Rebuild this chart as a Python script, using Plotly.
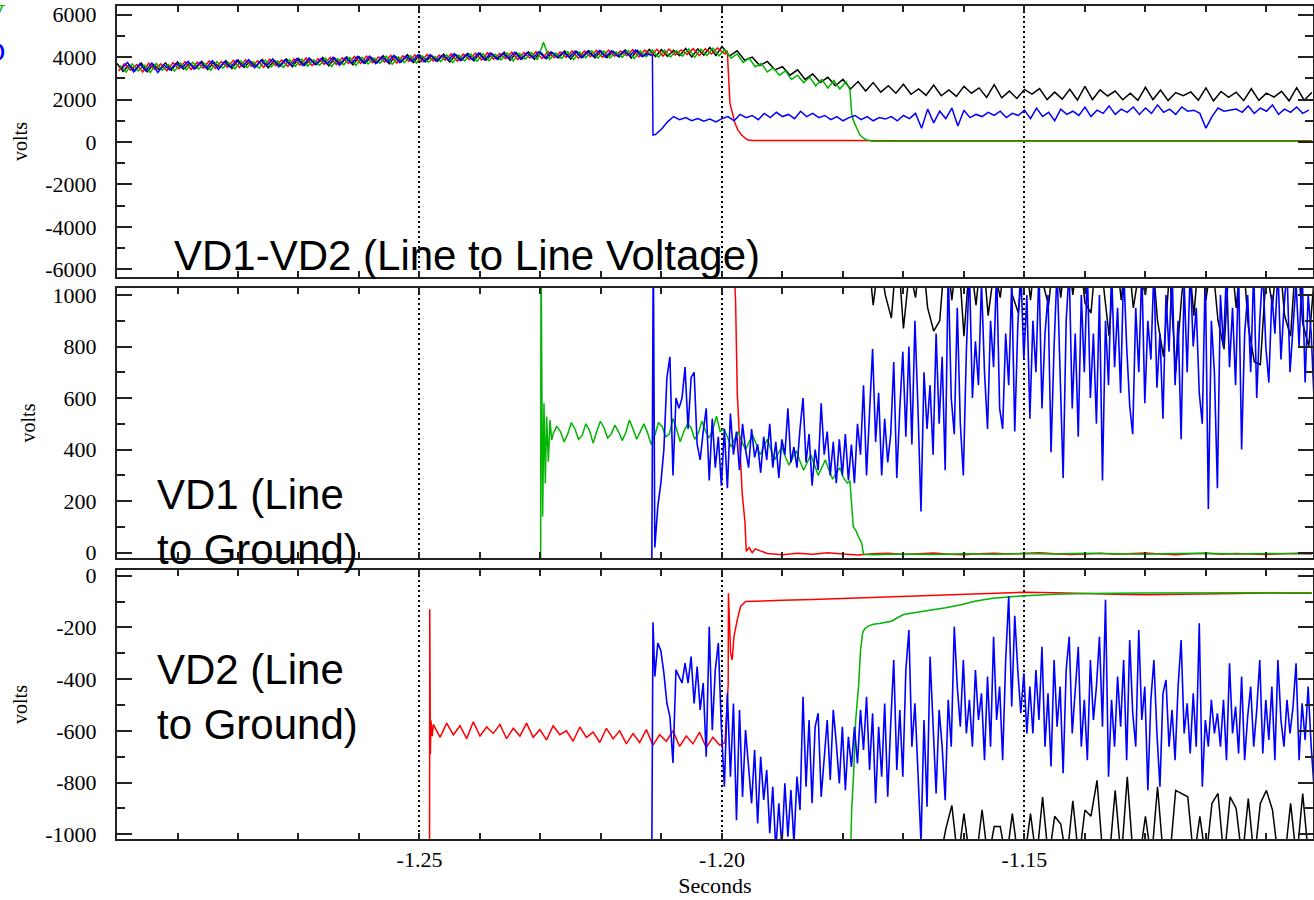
import numpy as np
import plotly.graph_objects as go

# ---------------- Panel 1 : VD1-VD2 (line to line) ----------------
P1_BLACK_T0, P1_DT = -1.300, 0.001
p1_black_early = [3700, 3330, 3640, 3360, 3720, 3310, 3660, 3400, 3730, 3380,
                  3770, 3430, 3710, 3470, 3800, 3420, 3760, 3510, 3830, 3460,
                  3860, 3520, 3810, 3560, 3890, 3500, 3840, 3590, 3910, 3550,
                  3940, 3610, 3900, 3650, 3980, 3590, 3950, 3670, 4010, 3640,
                  4020, 3700, 3990, 3730, 4070, 3690, 4040, 3770, 4110, 3750,
                  4100, 3790, 4070, 3810, 4140, 3770, 4120, 3860, 4180, 3830,
                  4190, 3860, 4160, 3890, 4230, 3850, 4200, 3920, 4250, 3900,
                  4240, 3930, 4210, 3960, 4290, 3910, 4270, 3990, 4310, 3970,
                  4300, 3980, 4270, 4010, 4340, 3960, 4320, 4040, 4360, 4020,
                  4350, 4030, 4320, 4070, 4410, 4010, 4390, 4090, 4450, 4080]
P1_BLACK_TAIL_T0, P1_BLACK_TAIL_DT = -1.200, 0.00125
p1_black_tail = [4500, 4050, 4300, 3850, 4000, 3600, 3800, 3400, 3550, 3150,
                 3400, 2950, 3200, 2800, 3050, 2650, 2950, 2500, 2850, 2400,
                 2800, 2350, 2650, 2300, 2720, 2250, 2500, 2200, 2680, 2180,
                 2450, 2150, 2620, 2300, 2550, 2100, 2700, 2080, 2400, 2050,
                 2480, 2260, 2520, 2000, 2350, 2020, 2480, 1980, 2620, 2000,
                 2460, 2170, 2400, 1990, 2300, 1960, 2580, 2000, 2450, 1950,
                 2330, 2180, 2360, 1970, 2550, 1940, 2380, 2100, 2350, 1950,
                 2510, 1960, 2300, 2120, 2390, 1940, 2560, 1970, 2330]

P1_RED_T0 = -1.29975
p1_red_early = [3350, 3690, 3380, 3650, 3300, 3710, 3420, 3680, 3360, 3740,
                3450, 3790, 3420, 3760, 3480, 3820, 3470, 3790, 3530, 3850,
                3510, 3870, 3560, 3830, 3520, 3900, 3600, 3860, 3570, 3920,
                3620, 3960, 3600, 3930, 3660, 3990, 3650, 3970, 3700, 4030,
                3710, 4050, 3740, 4010, 3760, 4080, 3720, 4060, 3800, 4110,
                3780, 4130, 3820, 4090, 3850, 4150, 3810, 4140, 3880, 4190,
                3860, 4210, 3900, 4170, 3930, 4230, 3890, 4220, 3960, 4260,
                3930, 4270, 3970, 4240, 3990, 4300, 3950, 4280, 4020, 4320,
                3990, 4330, 4040, 4290, 4060, 4350, 4010, 4330, 4080, 4370,
                4050, 4380, 4100, 4340, 4120, 4400, 4070, 4390, 4150, 4430]
p1_red_tail_t = [-1.1995, -1.19912, -1.19868, -1.19818, -1.19785, -1.19736, -1.19674,
                 -1.1962, -1.1957, -1.195, -1.19, -1.18, -1.17, -1.16, -1.15, -1.14,
                 -1.13, -1.12, -1.11, -1.1025]
p1_red_tail = [4150, 4300, 1830, 1170, 890, 560, 330, 190, 94, 70, 60, 65, 55, 60,
               60, 55, 60, 60, 55, 60]

P1_GREEN_T0 = -1.2995
p1_green_main = [3600, 3300, 3680, 3350, 3620, 3280, 3700, 3390, 3650, 3340,
                 3720, 3400, 3760, 3440, 3700, 3380, 3790, 3480, 3750, 3450,
                 3820, 3500, 3790, 3470, 3860, 3540, 3830, 3510, 3880, 3570,
                 3910, 3580, 3870, 3620, 3950, 3560, 3930, 3640, 3980, 3610,
                 3990, 3680, 3960, 3710, 4040, 3660, 4010, 3740, 4070, 3720,
                 4060, 3760, 4030, 3790, 4110, 3740, 4090, 3820, 4150, 3800,
                 4160, 3830, 4130, 3870, 4200, 3820, 4180, 3900, 4220, 3880,
                 4700, 3900, 4190, 3940, 4260, 3890, 4240, 3970, 4290, 3950,
                 4280, 3960, 4250, 3990, 4320, 3940, 4300, 4020, 4340, 4000,
                 4330, 4010, 4300, 4050, 4390, 3990, 4370, 4070, 4420, 4060,
                 4350, 3950, 4150, 3750, 3950, 3550, 3700, 3300, 3500, 3150,
                 3350, 2950, 3150, 2800, 3050, 2650, 2950, 2550, 2900, 2500,
                 2850]
p1_green_tail_t = [-1.17884, -1.17856, -1.1783, -1.17773, -1.17719, -1.17664, -1.17608,
                   -1.175, -1.17, -1.16, -1.15, -1.14, -1.13, -1.12, -1.11, -1.1025]
p1_green_tail = [2450, 1360, 1030, 660, 330, 190, 94, 40, 35, 30, 35, 30, 30, 35, 30, 30]

P1_BLUE_T0 = -1.29925
p1_blue_early = [3450, 3750, 3300, 3680, 3350, 3720, 3280, 3640, 3400, 3700,
                 3500, 3800, 3440, 3760, 3480, 3830, 3420, 3780, 3520, 3850,
                 3560, 3880, 3500, 3840, 3590, 3910, 3540, 3870, 3620, 3940,
                 3600, 3960, 3640, 3920, 3680, 4000, 3620, 3980, 3700, 4030,
                 3720, 4040, 3690, 4010, 3760, 4080, 3740, 4050, 3800, 4110,
                 3780, 4120, 3810, 4090, 3860, 4160, 3830, 4130, 3880, 4190,
                 3870, 4200, 3910, 4170, 3940, 4240, 3900, 4210, 3960, 4260,
                 3950, 4250, 3980, 4230, 4000, 4290, 3970, 4270, 4030, 4310,
                 4000, 4300, 4040, 4280, 4070, 4330, 4030, 4150]
p1_blue_drop_t = [-1.2115, -1.2114]
p1_blue_drop = [4100, 330]
P1_BLUE_TAIL_T0 = -1.2110
p1_blue_tail = [350, 600, 950, 1200, 1050, 1150, 1000, 1100, 980, 1080,
                950, 1100, 1200, 1000, 1300, 1150, 1250, 1050, 1350, 1150,
                1400, 1200, 1300, 1100, 1450, 1200, 1350, 1150, 1250, 1050,
                1200, 1000, 1150, 1250, 1050, 1200, 1000, 1150, 1080, 1200,
                1000, 1250, 1100, 1350, 650, 1550, 900, 1450, 1100, 1600,
                750, 1500, 1150, 1300, 1200, 1400, 1250, 1450, 1150, 1350,
                1250, 1500, 1100, 1600, 1200, 1400, 1000, 1550, 1300, 1450,
                1250, 1650, 1200, 1500, 1350, 1700, 1300, 1550, 1400, 1650,
                1300, 1600, 1350, 1750, 1400, 1550, 1300, 1650, 1450, 1500,
                1350, 650, 1200, 1600, 1450, 1500, 1550, 1400, 1700, 1350,
                1600, 1450, 1750, 1300, 1550, 1400, 1650, 1350, 1500]

# ---------------- Panel 2 : VD1 (line to ground) ----------------
P2_BLACK_T0 = -1.178
p2_black = [1200, 1100, 1200, 960, 1150, 1000, 910, 1200, 870, 1100,
            990, 1200, 950, 860, 900, 1200, 980, 1200, 840, 1150,
            960, 1200, 920, 1100, 990, 1200, 1000, 930, 1200, 980,
            1200, 1050, 960, 1200, 990, 1200, 1000, 1200, 970, 930,
            1200, 1050, 840, 1200, 980, 1200, 950, 1100, 1000, 1200,
            900, 760, 1100, 700, 1000, 1200, 920, 1200, 980, 1150,
            900, 790, 1200, 950, 1200, 880, 740, 730, 1100, 960,
            1200, 920, 840, 1200, 890, 800, 1100]

p2_red_head_t = [-1.2000, -1.1980, -1.19775, -1.1976, -1.19747, -1.1972, -1.19692,
                 -1.19664, -1.1962, -1.19598, -1.1955, -1.1950, -1.1945]
p2_red_head = [1300, 1100, 980, 800, 620, 490, 360, 225, 120, 5, 20, 0, 15]
P2_RED_FLAT_T0, P2_FLAT_DT = -1.1925, 0.0025
p2_red_flat = [-3, -8, -2, -6, 0, -5, -9, -4, -2, -7, -3, -1, -6, -8, -4, -2, -5, -3,
               0, -4, -7, -5, -2, -6, -3, -1, -5, -8, -4, -2, -6, -3, -5, -7, -4, -2, -5]

p2_green_head_t = [-1.2301, -1.22997, -1.22991, -1.2298, -1.22964, -1.22942, -1.2292,
                   -1.22898, -1.2287, -1.22843, -1.22815, -1.22788]
p2_green_head = [-60, -60, 1200, 670, 140, 580, 269, 528, 353, 515, 437, 463]
P2_GREEN_MID_T0, P2_GREEN_DT = -1.2273, 0.0006
p2_green_mid = [490, 470, 430, 460, 505, 480, 440, 455, 500, 475, 425, 470, 510, 485,
                445, 460, 495, 470, 435, 465, 515, 480, 440, 470, 500, 465, 420, 455,
                505, 490, 450, 460, 520, 480, 430, 470, 500, 485, 440, 465, 510, 470,
                445, 480, 530, 470,
                480, 450, 410, 440, 470, 430, 400, 430, 455, 420, 380, 410, 440, 400,
                360, 385, 410, 370, 340, 370, 395, 355, 320, 350, 380, 340, 300, 330,
                360, 320, 285, 310, 330, 290, 270]
p2_green_tail_t = [-1.17884, -1.1783, -1.1778, -1.1775, -1.1769, -1.1766, -1.175, -1.170,
                   -1.165, -1.160, -1.155, -1.150, -1.145, -1.140, -1.135, -1.130, -1.125,
                   -1.120, -1.115, -1.110, -1.105, -1.1025]
p2_green_tail = [277, 102, 83, 65, 38, -6, -8, -5, -7, -4, -6, -3, -5, -2, -4, -6, -3, -2,
                 -5, -3, -4, -3]

p2_blue_head_t = [-1.2116, -1.21135]
p2_blue_head = [-60, 1200]
P2_BLUE_T0, NOISE_DT = -1.2111, 0.0005
p2_blue = [20, 180, 270, 400, 680, 760, 300, 600, 560, 600,
           720, 480, 680, 700, 420, 360, 470, 560, 280, 520,
           330, 450, 260, 480, 250, 540, 380, 470, 320, 500,
           400, 330, 480, 370, 420, 310, 450, 360, 500, 330,
           430, 290, 440, 380, 560, 350, 410, 330, 480, 600,
           350, 460, 260, 400, 320, 580, 380, 470, 300, 430,
           270, 440, 300, 460, 280, 420, 270, 500, 380, 650,
           300, 560, 790, 430, 620, 300, 520, 350, 460, 740,
           290, 560, 780, 450, 800, 420, 900, 560, 160, 700,
           480, 650, 380, 850, 500, 760, 320, 1100, 600, 460,
           950, 500, 300, 780, 1100, 600, 820, 650, 1050, 700,
           480, 900, 720, 1100, 560, 480, 850, 650, 1050, 470,
           880, 1100, 750, 1000, 520, 900, 700, 1100, 560, 850,
           1000, 390, 800, 1100, 650, 290, 900, 1100, 560, 850,
           450, 1000, 700, 1100, 600, 850, 500, 1000, 280, 900,
           650, 1100, 720, 950, 620, 1100, 800, 570, 460, 950,
           700, 1100, 580, 900, 750, 1100, 640, 850, 520, 1000,
           780, 1100, 650, 900, 440, 1050, 700, 1100, 800, 950,
           620, 500, 1100, 170, 900, 700, 250, 1000, 800, 1100,
           720, 950, 650, 1100, 400, 850, 1000, 700, 1100, 600,
           900, 1100, 800, 660, 1000, 850, 1100, 750, 950, 1100,
           700, 900, 1050, 800, 1100, 660, 1000, 850, 580]

# ---------------- Panel 3 : VD2 (line to ground) ----------------
p3_red_head_t = [-1.24835, -1.2483, -1.2482, -1.2481, -1.2479]
p3_red_head = [-1500, -130, -690, -560, -620]
P3_RED_MID_T0, P3_RED_DT = -1.2477, 0.0011
p3_red_mid = [-575, -625, -570, -615, -580, -630, -565, -620, -585, -610,
              -575, -630, -590, -620, -570, -625, -595, -635, -580, -615,
              -600, -640, -585, -625, -605, -645, -590, -630, -600, -650,
              -610, -645, -595, -655, -615, -640, -600, -660, -620, -650,
              -605, -665, -625, -655]
p3_red_tail_t = [-1.1995, -1.19897, -1.19893, -1.19857, -1.1983, -1.19802, -1.19747,
                 -1.19692, -1.19609, -1.19444, -1.19, -1.185, -1.18, -1.175, -1.17,
                 -1.165, -1.16, -1.155, -1.15, -1.145, -1.14, -1.135, -1.13, -1.125,
                 -1.12, -1.115, -1.11, -1.105, -1.1025]
p3_red_tail = [-645, -420, -68, -300, -326, -236, -171, -119, -100, -98, -95, -92, -88,
               -84, -80, -76, -72, -68, -64, -66, -70, -72, -74, -73, -70, -69, -67,
               -68, -68]

p3_green_t = [-1.1790, -1.17871, -1.17855, -1.17822, -1.1779, -1.1774, -1.1771, -1.17673,
              -1.1764, -1.1758, -1.1750, -1.1740, -1.1720, -1.1700, -1.1680, -1.1661,
              -1.1630, -1.1607, -1.1580, -1.1552, -1.1507, -1.1450, -1.1400, -1.1300,
              -1.1200, -1.1100, -1.1025]
p3_green = [-1100, -1050, -900, -760, -560, -420, -290, -220, -205, -195, -188, -185,
            -176, -150, -142, -136, -124, -113, -98, -87, -79, -72, -69, -67, -66, -65, -66]

p3_blue_head_t = [-1.2116, -1.2114]
p3_blue_head = [-1100, -180]
P3_BLUE_T0 = -1.2111
p3_blue = [-390, -260, -290, -377, -494, -546, -724, -364, -390, -415,
           -338, -415, -313, -494, -351, -519, -415, -700, -197, -597,
           -364, -260, -584, -816, -455, -777, -494, -945, -519, -855,
           -597, -751, -880, -674, -958, -700, -867, -751, -996, -816,
           -1060, -880, -1050, -803, -1009, -829, -1035, -777, -906, -468,
           -816, -558, -880, -584, -532, -855, -700, -558, -790, -519,
           -648, -803, -584, -829, -623, -739, -584, -726, -519, -674,
           -468, -751, -532, -880, -584, -777, -494, -855, -571, -326,
           -751, -519, -777, -365, -210, -661, -493, -764, -1030, -558,
           -893, -313, -610, -842, -519, -661, -868, -480, -661, -197,
           -429, -584, -326, -610, -480, -661, -365, -558, -455, -713,
           -390, -661, -236, -558, -429, -713, -326, -80, -506, -155,
           -365, -532, -377, -610, -429, -610, -365, -558, -275, -661,
           -455, -738, -326, -584, -429, -764, -365, -236, -610, -429,
           -275, -661, -480, -713, -326, -558, -429, -236, -584, -93,
           -777, -480, -661, -390, -584, -326, -713, -249, -532, -661,
           -210, -558, -429, -829, -480, -326, -610, -816, -455, -403,
           -661, -519, -713, -429, -249, -610, -493, -687, -455, -661,
           -184, -816, -558, -661, -480, -610, -532, -661, -480, -713,
           -339, -610, -506, -687, -390, -713, -545, -429, -661, -519,
           -326, -687, -480, -635, -429, -713, -326, -558, -661, -480,
           -610, -506, -339, -713, -493, -635, -429, -661, -829]

P3_BLACK_T0 = -1.178
p3_black = [-1100, -1100, -1100, -1100, -1100, -1100, -1100, -1100, -1100, -1100,
            -1100, -1100, -1100, -1100, -1100, -980, -888, -1100, -920, -1100,
            -1100, -905, -1100, -970, -970, -1100, -920, -1100, -1100, -920,
            -1100, -856, -1100, -930, -960, -1100, -870, -1100, -906, -930,
            -791, -1100, -1100, -830, -1100, -778, -1100, -1100, -930, -1100,
            -816, -1100, -1100, -830, -842, -855, -1100, -930, -1100, -880,
            -842, -1100, -855, -900, -1100, -862, -1100, -880, -830, -906,
            -1100, -1100, -880, -1100, -842, -1100, -1050]

# ---------------- styling ----------------
C_BLACK, C_RED, C_GREEN, C_BLUE = "#000000", "#ff0000", "#00b400", "#0000ff"
SERIF = "Liberation Serif"
SANS = "Liberation Sans"


def tgrid(t0, dt, vals):
    return t0 + dt * np.arange(len(vals))


def cat(*parts):
    return np.concatenate([np.asarray(p, dtype=float) for p in parts])


fig = go.Figure()


def add(x, y, color, panel, width=1.5):
    xa = {1: "x", 2: "x2", 3: "x3"}[panel]
    ya = {1: "y", 2: "y2", 3: "y3"}[panel]
    fig.add_trace(go.Scatter(x=x, y=y, mode="lines", xaxis=xa, yaxis=ya,
                             line=dict(color=color, width=width), showlegend=False,
                             hoverinfo="skip"))


# panel 1
add(cat(tgrid(P1_BLACK_T0, P1_DT, p1_black_early), tgrid(P1_BLACK_TAIL_T0, P1_BLACK_TAIL_DT, p1_black_tail)),
    cat(p1_black_early, p1_black_tail), C_BLACK, 1)
add(cat(tgrid(P1_RED_T0, P1_DT, p1_red_early), p1_red_tail_t),
    cat(p1_red_early, p1_red_tail), C_RED, 1)
add(cat(tgrid(P1_GREEN_T0, P1_DT, p1_green_main), p1_green_tail_t),
    cat(p1_green_main, p1_green_tail), C_GREEN, 1)
add(cat(tgrid(P1_BLUE_T0, P1_DT, p1_blue_early), p1_blue_drop_t, tgrid(P1_BLUE_TAIL_T0, P1_DT, p1_blue_tail)),
    cat(p1_blue_early, p1_blue_drop, p1_blue_tail), C_BLUE, 1)

# panel 2
add(tgrid(P2_BLACK_T0, P1_DT, p2_black), p2_black, C_BLACK, 2)
add(cat(p2_red_head_t, tgrid(P2_RED_FLAT_T0, P2_FLAT_DT, p2_red_flat)),
    cat(p2_red_head, p2_red_flat), C_RED, 2)
add(cat(p2_green_head_t, tgrid(P2_GREEN_MID_T0, P2_GREEN_DT, p2_green_mid), p2_green_tail_t),
    cat(p2_green_head, p2_green_mid, p2_green_tail), C_GREEN, 2)
add(cat(p2_blue_head_t, tgrid(P2_BLUE_T0, NOISE_DT, p2_blue)),
    cat(p2_blue_head, p2_blue), C_BLUE, 2, 1.6)

# panel 3
add(tgrid(P3_BLACK_T0, P1_DT, p3_black), p3_black, C_BLACK, 3)
add(cat(p3_red_head_t, tgrid(P3_RED_MID_T0, P3_RED_DT, p3_red_mid), p3_red_tail_t),
    cat(p3_red_head, p3_red_mid, p3_red_tail), C_RED, 3)
add(p3_green_t, p3_green, C_GREEN, 3)
add(cat(p3_blue_head_t, tgrid(P3_BLUE_T0, NOISE_DT, p3_blue)),
    cat(p3_blue_head, p3_blue), C_BLUE, 3, 1.6)

x_ticks = [-1.25, -1.20, -1.15]
x_text = ["-1.25", "-1.20", "-1.15"]

xcommon = dict(range=[-1.30, -1.1023], tickvals=x_ticks, ticktext=x_text,
               ticks="inside", ticklen=6, tickwidth=1.5, tickcolor="#222",
               showgrid=True, gridcolor="#000", gridwidth=2, griddash="2px,3px",
               showline=True, linecolor="#222", linewidth=2, mirror="ticks",
               zeroline=False,
               minor=dict(dtick=0.01, tick0=-1.30, ticks="inside", ticklen=6,
                          tickwidth=1.5, tickcolor="#222", showgrid=False),
               tickfont=dict(family=SERIF, size=22, color="#000"))


def ycommon(rng, vals, minor_dtick):
    return dict(range=rng, tickvals=vals, ticktext=[str(v) for v in vals],
                ticks="inside", ticklen=15, tickwidth=1.5, tickcolor="#222",
                showline=True, linecolor="#222", linewidth=2, mirror="ticks",
                showgrid=False, zeroline=False, ticklabelstandoff=14,
                minor=dict(dtick=minor_dtick, ticks="inside", ticklen=8, tickwidth=1.5,
                           tickcolor="#222", showgrid=False),
                tickfont=dict(family=SERIF, size=22, color="#000"),
                title=dict(text="volts", font=dict(family=SERIF, size=20, color="#000"),
                           standoff=12))


p1_ticks = [-6000, -4000, -2000, 0, 2000, 4000, 6000]
p2_ticks = [0, 200, 400, 600, 800, 1000]
p3_ticks = [-1000, -800, -600, -400, -200, 0]

fig.update_layout(
    width=1314, height=900,
    margin=dict(l=117, r=1, t=6, b=61, autoexpand=False),
    paper_bgcolor="white", plot_bgcolor="white",
    showlegend=False,
    xaxis=dict(xcommon, anchor="y", showticklabels=False),
    xaxis2=dict(xcommon, anchor="y2", matches="x", showticklabels=False),
    xaxis3=dict(xcommon, anchor="y3", matches="x", showticklabels=True,
                title=dict(text="Seconds", font=dict(family=SERIF, size=22, color="#000"),
                           standoff=6)),
    yaxis=dict(ycommon([-6363, 6410], p1_ticks, 1000), domain=[0.67467, 1.0], anchor="x"),
    yaxis2=dict(ycommon([-20.6, 1027], p2_ticks, 100), domain=[0.33733, 0.66146], anchor="x2"),
    yaxis3=dict(ycommon([-1018, 22], p3_ticks, 100), domain=[0.0, 0.32293], anchor="x3"),
)

ann_font = dict(family=SANS, size=42, color="#000")
fig.add_annotation(xref="paper", yref="paper", x=0.04599, y=0.70048, xanchor="left",
                   yanchor="middle", text="VD1-VD2 (Line to Line Voltage)", showarrow=False,
                   font=ann_font, align="left")
fig.add_annotation(xref="paper", yref="paper", x=0.03177, y=0.38055, xanchor="left",
                   yanchor="middle", text="VD1 (Line<br>to Ground)", showarrow=False,
                   font=ann_font, align="left")
fig.add_annotation(xref="paper", yref="paper", x=0.03177, y=0.17047, xanchor="left",
                   yanchor="middle", text="VD2 (Line<br>to Ground)", showarrow=False,
                   font=ann_font, align="left")
# clipped legend remnants at the far left edge
fig.add_annotation(xref="paper", yref="paper", x=-0.09197, y=0.9904, xanchor="right",
                   yanchor="middle", text="V", showarrow=False,
                   font=dict(family=SERIF, size=28, color=C_GREEN))
fig.add_annotation(xref="paper", yref="paper", x=-0.09197, y=0.9448, xanchor="right",
                   yanchor="middle", text="D", showarrow=False,
                   font=dict(family=SERIF, size=28, color=C_BLUE))

fig.write_html("out.html",
               config={"displayModeBar": False},
               post_script="document.body.style.margin='0px';"
                           "document.body.style.overflow='hidden';")
